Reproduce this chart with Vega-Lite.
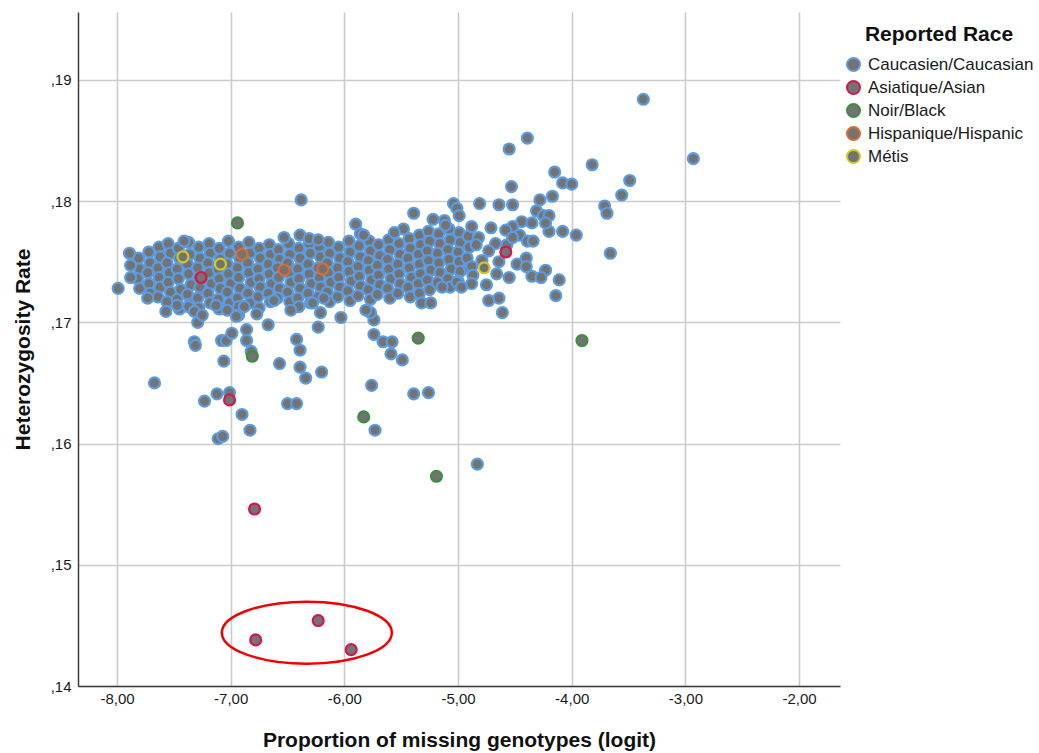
{
  "$schema": "https://vega.github.io/schema/vega-lite/v6.json",
  "width": 762,
  "height": 674,
  "autosize": {"type": "none"},
  "padding": {"left": 78, "top": 12, "right": 199, "bottom": 67},
  "background": "white",
  "config": {
    "view": {"stroke": null},
    "font": "Liberation Sans",
    "axis": {
      "domainColor": "#3c3c3c",
      "domainWidth": 1.5,
      "gridColor": "#cbcbcb",
      "gridWidth": 1.6,
      "ticks": false,
      "labelFont": "Liberation Sans",
      "labelFontSize": 15,
      "labelColor": "#1a1a1a",
      "titleFont": "Liberation Sans",
      "titleFontSize": 21,
      "titleFontWeight": "bold",
      "titleColor": "#111111"
    },
    "legend": {
      "orient": "none",
      "legendX": 767,
      "legendY": 12,
      "padding": 0,
      "titleFont": "Liberation Sans",
      "titleFontSize": 21,
      "titleFontWeight": "bold",
      "titleColor": "#111111",
      "titleAnchor": "middle",
      "titlePadding": 11,
      "titleLimit": 0,
      "labelFont": "Liberation Sans",
      "labelFontSize": 17,
      "labelColor": "#1a1a1a",
      "labelOffset": 6,
      "labelLimit": 0,
      "rowPadding": 0,
      "symbolType": "circle",
      "symbolSize": 170,
      "symbolStrokeWidth": 2,
      "symbolFillColor": "#737373",
      "symbolOpacity": 1
    }
  },
  "datasets": {
    "caucasian": [
      {"x": -7.81, "y": 0.1753}, {"x": -7.80, "y": 0.1744}, {"x": -7.82, "y": 0.1736}, {"x": -7.80, "y": 0.1728},
      {"x": -7.72, "y": 0.1758}, {"x": -7.71, "y": 0.1749}, {"x": -7.73, "y": 0.1741}, {"x": -7.72, "y": 0.1732}, {"x": -7.71, "y": 0.1724},
      {"x": -7.63, "y": 0.1762}, {"x": -7.62, "y": 0.1754}, {"x": -7.64, "y": 0.1745}, {"x": -7.63, "y": 0.1737}, {"x": -7.62, "y": 0.1729}, {"x": -7.64, "y": 0.1721},
      {"x": -7.55, "y": 0.1765}, {"x": -7.53, "y": 0.1757}, {"x": -7.56, "y": 0.1749}, {"x": -7.54, "y": 0.1741}, {"x": -7.55, "y": 0.1733}, {"x": -7.53, "y": 0.1725}, {"x": -7.56, "y": 0.1717},
      {"x": -7.46, "y": 0.1761}, {"x": -7.45, "y": 0.1753}, {"x": -7.47, "y": 0.1744}, {"x": -7.46, "y": 0.1736}, {"x": -7.44, "y": 0.1727}, {"x": -7.47, "y": 0.1719}, {"x": -7.45, "y": 0.1711},
      {"x": -7.37, "y": 0.1766}, {"x": -7.36, "y": 0.1756}, {"x": -7.38, "y": 0.1748}, {"x": -7.37, "y": 0.1740}, {"x": -7.35, "y": 0.1731}, {"x": -7.38, "y": 0.1723}, {"x": -7.36, "y": 0.1715},
      {"x": -7.28, "y": 0.1762}, {"x": -7.27, "y": 0.1753}, {"x": -7.29, "y": 0.1745}, {"x": -7.28, "y": 0.1737}, {"x": -7.27, "y": 0.1729}, {"x": -7.29, "y": 0.1720}, {"x": -7.28, "y": 0.1712},
      {"x": -7.19, "y": 0.1765}, {"x": -7.18, "y": 0.1757}, {"x": -7.20, "y": 0.1749}, {"x": -7.19, "y": 0.1741}, {"x": -7.17, "y": 0.1732}, {"x": -7.20, "y": 0.1724}, {"x": -7.18, "y": 0.1716},
      {"x": -7.10, "y": 0.1761}, {"x": -7.09, "y": 0.1752}, {"x": -7.11, "y": 0.1744}, {"x": -7.10, "y": 0.1736}, {"x": -7.09, "y": 0.1728}, {"x": -7.11, "y": 0.1719}, {"x": -7.10, "y": 0.1711},
      {"x": -7.02, "y": 0.1767}, {"x": -7.01, "y": 0.1757}, {"x": -7.03, "y": 0.1748}, {"x": -7.02, "y": 0.1740}, {"x": -7.00, "y": 0.1732}, {"x": -7.03, "y": 0.1725}, {"x": -7.01, "y": 0.1716},
      {"x": -6.93, "y": 0.1762}, {"x": -6.92, "y": 0.1753}, {"x": -6.94, "y": 0.1745}, {"x": -6.93, "y": 0.1737}, {"x": -6.92, "y": 0.1728}, {"x": -6.94, "y": 0.1720}, {"x": -6.93, "y": 0.1713},
      {"x": -6.84, "y": 0.1766}, {"x": -6.83, "y": 0.1757}, {"x": -6.85, "y": 0.1749}, {"x": -6.84, "y": 0.1741}, {"x": -6.82, "y": 0.1733}, {"x": -6.85, "y": 0.1724}, {"x": -6.83, "y": 0.1716},
      {"x": -6.75, "y": 0.1761}, {"x": -6.74, "y": 0.1753}, {"x": -6.76, "y": 0.1744}, {"x": -6.75, "y": 0.1736}, {"x": -6.74, "y": 0.1729}, {"x": -6.76, "y": 0.1721}, {"x": -6.75, "y": 0.1712},
      {"x": -6.66, "y": 0.1764}, {"x": -6.65, "y": 0.1756}, {"x": -6.67, "y": 0.1748}, {"x": -6.66, "y": 0.1740}, {"x": -6.64, "y": 0.1732}, {"x": -6.67, "y": 0.1724}, {"x": -6.65, "y": 0.1717},
      {"x": -6.58, "y": 0.1760}, {"x": -6.57, "y": 0.1752}, {"x": -6.59, "y": 0.1745}, {"x": -6.58, "y": 0.1737}, {"x": -6.57, "y": 0.1728}, {"x": -6.59, "y": 0.1720},
      {"x": -6.49, "y": 0.1765}, {"x": -6.48, "y": 0.1756}, {"x": -6.50, "y": 0.1749}, {"x": -6.49, "y": 0.1741}, {"x": -6.47, "y": 0.1733}, {"x": -6.50, "y": 0.1725}, {"x": -6.48, "y": 0.1717},
      {"x": -6.40, "y": 0.1761}, {"x": -6.39, "y": 0.1753}, {"x": -6.41, "y": 0.1744}, {"x": -6.40, "y": 0.1736}, {"x": -6.39, "y": 0.1728}, {"x": -6.41, "y": 0.1720}, {"x": -6.40, "y": 0.1713},
      {"x": -6.31, "y": 0.1765}, {"x": -6.30, "y": 0.1757}, {"x": -6.32, "y": 0.1748}, {"x": -6.31, "y": 0.1740}, {"x": -6.29, "y": 0.1732}, {"x": -6.32, "y": 0.1724}, {"x": -6.30, "y": 0.1716},
      {"x": -6.22, "y": 0.1762}, {"x": -6.21, "y": 0.1754}, {"x": -6.23, "y": 0.1745}, {"x": -6.22, "y": 0.1737}, {"x": -6.21, "y": 0.1729}, {"x": -6.23, "y": 0.1721},
      {"x": -6.14, "y": 0.1766}, {"x": -6.13, "y": 0.1757}, {"x": -6.15, "y": 0.1749}, {"x": -6.14, "y": 0.1741}, {"x": -6.12, "y": 0.1733}, {"x": -6.15, "y": 0.1725}, {"x": -6.13, "y": 0.1717},
      {"x": -6.05, "y": 0.1762}, {"x": -6.04, "y": 0.1753}, {"x": -6.06, "y": 0.1745}, {"x": -6.05, "y": 0.1737}, {"x": -6.04, "y": 0.1729}, {"x": -6.06, "y": 0.1721},
      {"x": -5.96, "y": 0.1767}, {"x": -5.95, "y": 0.1758}, {"x": -5.97, "y": 0.1750}, {"x": -5.96, "y": 0.1742}, {"x": -5.94, "y": 0.1734}, {"x": -5.97, "y": 0.1726}, {"x": -5.95, "y": 0.1718},
      {"x": -5.87, "y": 0.1763}, {"x": -5.86, "y": 0.1754}, {"x": -5.88, "y": 0.1746}, {"x": -5.87, "y": 0.1738}, {"x": -5.86, "y": 0.1730}, {"x": -5.88, "y": 0.1722},
      {"x": -5.78, "y": 0.1767}, {"x": -5.77, "y": 0.1759}, {"x": -5.79, "y": 0.1751}, {"x": -5.78, "y": 0.1743}, {"x": -5.76, "y": 0.1735}, {"x": -5.79, "y": 0.1727}, {"x": -5.77, "y": 0.1719},
      {"x": -5.70, "y": 0.1764}, {"x": -5.69, "y": 0.1755}, {"x": -5.71, "y": 0.1747}, {"x": -5.70, "y": 0.1739}, {"x": -5.69, "y": 0.1731}, {"x": -5.71, "y": 0.1723},
      {"x": -5.61, "y": 0.1768}, {"x": -5.60, "y": 0.1760}, {"x": -5.62, "y": 0.1752}, {"x": -5.61, "y": 0.1744}, {"x": -5.59, "y": 0.1736}, {"x": -5.62, "y": 0.1728}, {"x": -5.60, "y": 0.1720},
      {"x": -5.52, "y": 0.1765}, {"x": -5.51, "y": 0.1756}, {"x": -5.53, "y": 0.1748}, {"x": -5.52, "y": 0.1740}, {"x": -5.51, "y": 0.1732}, {"x": -5.53, "y": 0.1724},
      {"x": -5.43, "y": 0.1769}, {"x": -5.42, "y": 0.1761}, {"x": -5.44, "y": 0.1753}, {"x": -5.43, "y": 0.1745}, {"x": -5.41, "y": 0.1737}, {"x": -5.44, "y": 0.1729}, {"x": -5.42, "y": 0.1721},
      {"x": -5.34, "y": 0.1772}, {"x": -5.33, "y": 0.1764}, {"x": -5.35, "y": 0.1756}, {"x": -5.34, "y": 0.1748}, {"x": -5.33, "y": 0.1740}, {"x": -5.35, "y": 0.1732}, {"x": -5.34, "y": 0.1724},
      {"x": -5.26, "y": 0.1775}, {"x": -5.25, "y": 0.1767}, {"x": -5.27, "y": 0.1759}, {"x": -5.26, "y": 0.1751}, {"x": -5.24, "y": 0.1743}, {"x": -5.27, "y": 0.1735}, {"x": -5.25, "y": 0.1727},
      {"x": -5.17, "y": 0.1773}, {"x": -5.16, "y": 0.1765}, {"x": -5.18, "y": 0.1757}, {"x": -5.17, "y": 0.1749}, {"x": -5.16, "y": 0.1741}, {"x": -5.18, "y": 0.1733},
      {"x": -5.08, "y": 0.1777}, {"x": -5.07, "y": 0.1768}, {"x": -5.09, "y": 0.1760}, {"x": -5.08, "y": 0.1752}, {"x": -5.06, "y": 0.1744}, {"x": -5.09, "y": 0.1736}, {"x": -5.07, "y": 0.1729},
      {"x": -4.99, "y": 0.1774}, {"x": -4.98, "y": 0.1766}, {"x": -5.00, "y": 0.1758}, {"x": -4.99, "y": 0.1750}, {"x": -4.98, "y": 0.1742}, {"x": -5.00, "y": 0.1734},
      {"x": -4.91, "y": 0.1771}, {"x": -4.90, "y": 0.1762}, {"x": -4.92, "y": 0.1753}, {"x": -4.90, "y": 0.1745},
      {"x": -7.57, "y": 0.1709}, {"x": -7.29, "y": 0.1700}, {"x": -7.32, "y": 0.1684}, {"x": -7.31, "y": 0.1681},
      {"x": -7.08, "y": 0.1685}, {"x": -7.04, "y": 0.1685}, {"x": -6.99, "y": 0.1691}, {"x": -6.86, "y": 0.1694},
      {"x": -6.86, "y": 0.1685}, {"x": -6.82, "y": 0.1676}, {"x": -7.06, "y": 0.1668}, {"x": -6.67, "y": 0.1698},
      {"x": -6.77, "y": 0.1707}, {"x": -6.93, "y": 0.1706}, {"x": -6.57, "y": 0.1666}, {"x": -6.42, "y": 0.1686},
      {"x": -6.39, "y": 0.1677}, {"x": -6.39, "y": 0.1663}, {"x": -6.34, "y": 0.1654}, {"x": -6.20, "y": 0.1659},
      {"x": -6.23, "y": 0.1696}, {"x": -6.21, "y": 0.1708}, {"x": -6.03, "y": 0.1704}, {"x": -7.67, "y": 0.1650},
      {"x": -7.23, "y": 0.1635}, {"x": -7.12, "y": 0.1641}, {"x": -7.01, "y": 0.1642}, {"x": -6.90, "y": 0.1624},
      {"x": -6.83, "y": 0.1611}, {"x": -7.11, "y": 0.1604}, {"x": -7.07, "y": 0.1606}, {"x": -6.50, "y": 0.1633},
      {"x": -6.42, "y": 0.1633}, {"x": -5.74, "y": 0.1690}, {"x": -5.66, "y": 0.1684}, {"x": -5.58, "y": 0.1684},
      {"x": -5.59, "y": 0.1674}, {"x": -5.49, "y": 0.1669}, {"x": -5.76, "y": 0.1648}, {"x": -5.73, "y": 0.1611},
      {"x": -5.39, "y": 0.1641}, {"x": -5.26, "y": 0.1642}, {"x": -5.74, "y": 0.1702}, {"x": -5.77, "y": 0.1708},
      {"x": -5.81, "y": 0.1710}, {"x": -4.83, "y": 0.1583}, {"x": -7.89, "y": 0.1757}, {"x": -7.88, "y": 0.1747},
      {"x": -7.88, "y": 0.1737}, {"x": -7.99, "y": 0.1728}, {"x": -7.73, "y": 0.1720}, {"x": -6.38, "y": 0.1801},
      {"x": -5.39, "y": 0.1790}, {"x": -5.04, "y": 0.1798}, {"x": -5.01, "y": 0.1794}, {"x": -4.99, "y": 0.1788},
      {"x": -5.22, "y": 0.1785}, {"x": -5.12, "y": 0.1784}, {"x": -5.11, "y": 0.1780}, {"x": -5.90, "y": 0.1781},
      {"x": -5.48, "y": 0.1777}, {"x": -5.86, "y": 0.1773}, {"x": -5.83, "y": 0.1772}, {"x": -5.56, "y": 0.1774},
      {"x": -6.47, "y": 0.1710}, {"x": -5.32, "y": 0.1716}, {"x": -5.24, "y": 0.1716}, {"x": -5.14, "y": 0.1729},
      {"x": -5.01, "y": 0.1733}, {"x": -6.28, "y": 0.1716}, {"x": -6.18, "y": 0.1720},
      {"x": -3.37, "y": 0.1884}, {"x": -2.93, "y": 0.1835}, {"x": -4.39, "y": 0.1852}, {"x": -4.55, "y": 0.1843},
      {"x": -3.82, "y": 0.1830}, {"x": -4.15, "y": 0.1824}, {"x": -3.49, "y": 0.1817}, {"x": -4.08, "y": 0.1815},
      {"x": -4.00, "y": 0.1814}, {"x": -4.53, "y": 0.1812}, {"x": -3.56, "y": 0.1805}, {"x": -4.17, "y": 0.1804},
      {"x": -4.28, "y": 0.1801}, {"x": -4.81, "y": 0.1798}, {"x": -4.64, "y": 0.1797}, {"x": -4.52, "y": 0.1797},
      {"x": -3.71, "y": 0.1796}, {"x": -3.69, "y": 0.1790}, {"x": -4.31, "y": 0.1792}, {"x": -4.25, "y": 0.1788},
      {"x": -4.20, "y": 0.1788}, {"x": -4.44, "y": 0.1783}, {"x": -4.35, "y": 0.1782}, {"x": -4.52, "y": 0.1779},
      {"x": -4.58, "y": 0.1776}, {"x": -4.20, "y": 0.1775}, {"x": -4.08, "y": 0.1775}, {"x": -3.96, "y": 0.1772},
      {"x": -4.23, "y": 0.1782}, {"x": -4.46, "y": 0.1772}, {"x": -4.39, "y": 0.1767}, {"x": -4.34, "y": 0.1767},
      {"x": -3.66, "y": 0.1757}, {"x": -4.40, "y": 0.1753}, {"x": -4.48, "y": 0.1748}, {"x": -4.40, "y": 0.1746},
      {"x": -4.23, "y": 0.1743}, {"x": -4.35, "y": 0.1738}, {"x": -4.27, "y": 0.1737}, {"x": -4.11, "y": 0.1735},
      {"x": -4.55, "y": 0.1737}, {"x": -4.66, "y": 0.1740}, {"x": -4.73, "y": 0.1718}, {"x": -4.64, "y": 0.1720},
      {"x": -4.14, "y": 0.1722}, {"x": -4.61, "y": 0.1708}, {"x": -4.88, "y": 0.1746},
      {"x": -4.88, "y": 0.1779}, {"x": -4.82, "y": 0.1770}, {"x": -4.71, "y": 0.1778}, {"x": -4.67, "y": 0.1765},
      {"x": -4.73, "y": 0.1759}, {"x": -4.84, "y": 0.1764}, {"x": -4.79, "y": 0.1751}, {"x": -4.64, "y": 0.1750},
      {"x": -4.87, "y": 0.1739}, {"x": -4.97, "y": 0.1729}, {"x": -4.75, "y": 0.1731}, {"x": -4.57, "y": 0.1764},
      {"x": -4.52, "y": 0.1770}, {"x": -4.88, "y": 0.1732},
      {"x": -7.47, "y": 0.1714}, {"x": -7.37, "y": 0.1713}, {"x": -7.32, "y": 0.1709}, {"x": -7.25, "y": 0.1706},
      {"x": -7.13, "y": 0.1714}, {"x": -7.03, "y": 0.1710}, {"x": -6.95, "y": 0.1705}, {"x": -6.88, "y": 0.1713},
      {"x": -6.62, "y": 0.1718}, {"x": -7.41, "y": 0.1767}, {"x": -6.53, "y": 0.1770}, {"x": -6.39, "y": 0.1772},
      {"x": -6.31, "y": 0.1769}, {"x": -6.23, "y": 0.1768}
    ],
    "asian": [
      {"x": -7.26, "y": 0.1737}, {"x": -7.01, "y": 0.1636}, {"x": -6.79, "y": 0.1546}, {"x": -4.58, "y": 0.1758},
      {"x": -6.78, "y": 0.1438}, {"x": -6.23, "y": 0.1454}, {"x": -5.94, "y": 0.1430}
    ],
    "black": [
      {"x": -6.94, "y": 0.1782}, {"x": -6.81, "y": 0.1672}, {"x": -5.83, "y": 0.1622},
      {"x": -5.35, "y": 0.1687}, {"x": -5.19, "y": 0.1573}, {"x": -3.91, "y": 0.1685}
    ],
    "hispanic": [
      {"x": -6.90, "y": 0.1756}, {"x": -6.53, "y": 0.1743}, {"x": -6.19, "y": 0.1744}
    ],
    "metis": [
      {"x": -7.42, "y": 0.1754}, {"x": -7.09, "y": 0.1748}, {"x": -4.77, "y": 0.1745}
    ],
    "highlight": [
      {"x": -6.33, "y": 0.1444}
    ]
  },
  "encoding": {
    "x": {
      "field": "x",
      "type": "quantitative",
      "scale": {"domain": [-8.343, -1.64], "nice": false, "zero": false},
      "axis": {
        "title": "Proportion of missing genotypes (logit)",
        "values": [-8, -7, -6, -5, -4, -3, -2],
        "labelExpr": "replace(replace(format(datum.value, '.2f'), '.', ','), '\u2212', '-')",
        "grid": true,
        "labelPadding": 5,
        "titlePadding": 23
      }
    },
    "y": {
      "field": "y",
      "type": "quantitative",
      "scale": {"domain": [0.14, 0.1956], "nice": false, "zero": false},
      "axis": {
        "title": "Heterozygosity Rate",
        "values": [0.14, 0.15, 0.16, 0.17, 0.18, 0.19],
        "labelExpr": "replace(format(datum.value, '.2f'), '0.', ',')",
        "grid": true,
        "labelPadding": 7,
        "titlePadding": 17
      }
    }
  },
  "layer": [
    {
      "data": {"name": "caucasian"},
      "mark": {"type": "point", "filled": true, "fill": "#737373", "size": 120, "strokeWidth": 2.2, "opacity": 1},
      "encoding": {
        "stroke": {
          "datum": "Caucasien/Caucasian",
          "type": "nominal",
          "scale": {
            "domain": ["Caucasien/Caucasian", "Asiatique/Asian", "Noir/Black", "Hispanique/Hispanic", "Métis"],
            "range": ["#5b9be0", "#d4184c", "#3d8f3d", "#e2692e", "#d2c81e"]
          },
          "legend": {"title": "Reported Race"}
        }
      }
    },
    {
      "data": {"name": "asian"},
      "mark": {"type": "point", "filled": true, "fill": "#737373", "size": 120, "strokeWidth": 2.2, "opacity": 1},
      "encoding": {"stroke": {"datum": "Asiatique/Asian", "type": "nominal"}}
    },
    {
      "data": {"name": "black"},
      "mark": {"type": "point", "filled": true, "fill": "#737373", "size": 120, "strokeWidth": 2.2, "opacity": 1},
      "encoding": {"stroke": {"datum": "Noir/Black", "type": "nominal"}}
    },
    {
      "data": {"name": "hispanic"},
      "mark": {"type": "point", "filled": true, "fill": "#737373", "size": 120, "strokeWidth": 2.2, "opacity": 1},
      "encoding": {"stroke": {"datum": "Hispanique/Hispanic", "type": "nominal"}}
    },
    {
      "data": {"name": "metis"},
      "mark": {"type": "point", "filled": true, "fill": "#737373", "size": 120, "strokeWidth": 2.2, "opacity": 1},
      "encoding": {"stroke": {"datum": "Métis", "type": "nominal"}}
    },
    {
      "data": {"name": "highlight"},
      "mark": {
        "type": "point",
        "shape": "M -1 0 A 1 0.365 0 1 0 1 0 A 1 0.365 0 1 0 -1 0 Z",
        "size": 28900,
        "filled": false,
        "stroke": "#f20000",
        "strokeWidth": 2.5,
        "opacity": 1
      }
    }
  ]
}
